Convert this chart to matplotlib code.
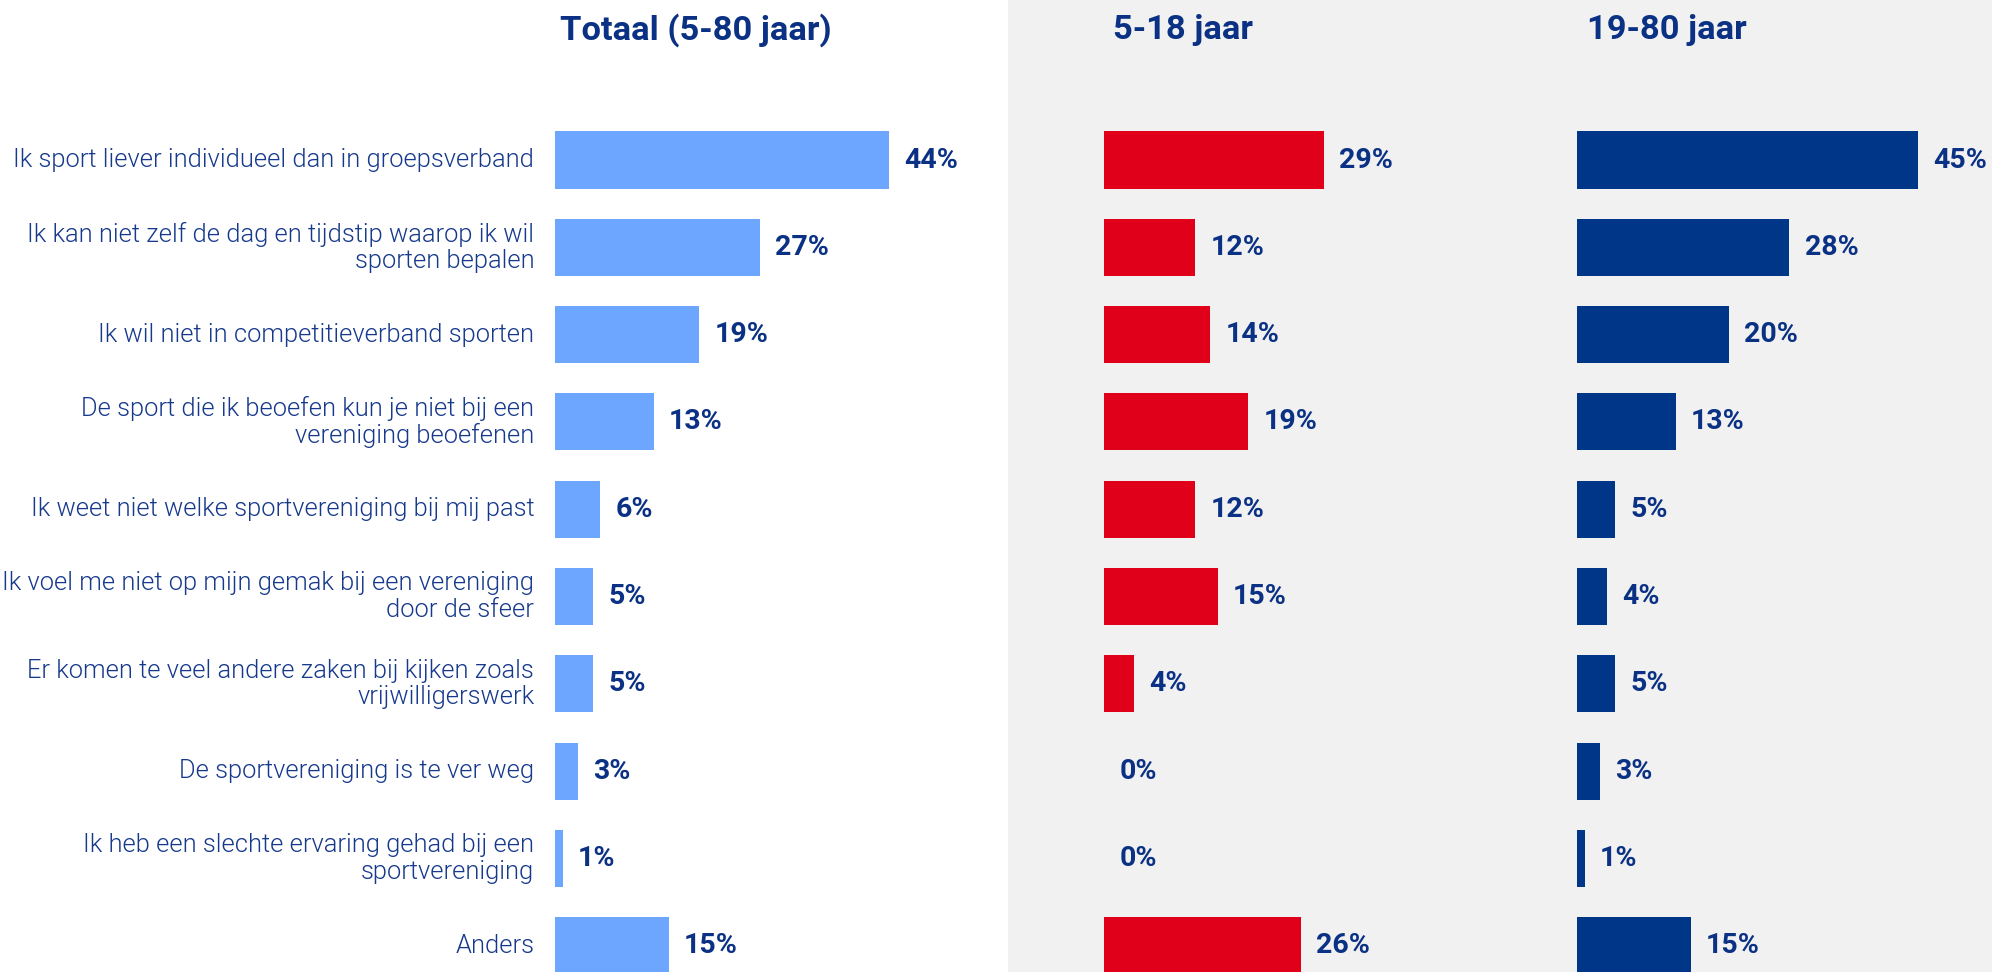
import os
import matplotlib
matplotlib.use("Agg")
import matplotlib.pyplot as plt
from matplotlib.patches import Rectangle
from matplotlib import font_manager as fm
from matplotlib.font_manager import FontProperties

categories = [
    "Ik sport liever individueel dan in groepsverband",
    "Ik kan niet zelf de dag en tijdstip waarop ik wil\nsporten bepalen",
    "Ik wil niet in competitieverband sporten",
    "De sport die ik beoefen kun je niet bij een\nvereniging beoefenen",
    "Ik weet niet welke sportvereniging bij mij past",
    "Ik voel me niet op mijn gemak bij een vereniging\ndoor de sfeer",
    "Er komen te veel andere zaken bij kijken zoals\nvrijwilligerswerk",
    "De sportvereniging is te ver weg",
    "Ik heb een slechte ervaring gehad bij een\nsportvereniging",
    "Anders",
]
totaal = [44, 27, 19, 13, 6, 5, 5, 3, 1, 15]
jeugd = [29, 12, 14, 19, 12, 15, 4, 0, 0, 26]
volwassen = [45, 28, 20, 13, 5, 4, 5, 3, 1, 15]
titles = ["Totaal (5-80 jaar)", "5-18 jaar", "19-80 jaar"]

files = [f.fname for f in fm.fontManager.ttflist]


def find(names):
    for n in names:
        for f in files:
            if os.path.basename(f).lower() == n.lower():
                return f
    return None


reg_file = find(["Roboto-Light.ttf", "Roboto-Regular.ttf", "RobotoCondensed-Light.ttf"])
bold_file = find(["Roboto-Bold.ttf", "RobotoCondensed-Bold.ttf"])


def fp(bold, size):
    f = bold_file if bold else reg_file
    if f:
        return FontProperties(fname=f, size=size)
    return FontProperties(family="Roboto", weight="bold" if bold else "light", size=size)


NAVY = "#0a3183"
LABEL = "#16398c"
colors = ["#6ca6ff", "#e1001a", "#003687"]

W, H = 1992, 972
fig = plt.figure(figsize=(W / 100, H / 100), dpi=100)
fig.patch.set_facecolor("white")
fig.add_artist(Rectangle((1008 / W, 0), 1 - 1008 / W, 1, transform=fig.transFigure,
                         facecolor="#f1f1f1", edgecolor="none", zorder=0))

pxpct = 7.58
y0, pitch = 160, 87.3
ylo = -y0 / pitch
yhi = (H - y0) / pitch
lefts = [555, 1104, 1577]
xmaxs = [60, 60, 54]
series = [totaal, jeugd, volwassen]

for k in range(3):
    width_px = xmaxs[k] * pxpct
    ax = fig.add_axes([lefts[k] / W, 0, width_px / W, 1])
    ax.set_facecolor("none")
    ax.set_xlim(0, xmaxs[k])
    ax.set_ylim(yhi, ylo)
    ax.axis("off")
    ypos = list(range(len(categories)))
    ax.barh(ypos, series[k], height=0.655, color=colors[k], zorder=2)
    for i, v in enumerate(series[k]):
        ax.annotate(f"{v}%", (v, i), xytext=(11, 0), textcoords="offset points",
                    ha="left", va="center", fontproperties=fp(True, 20.5),
                    color=NAVY, annotation_clip=False)
    if k == 0:
        for i, c in enumerate(categories):
            ax.annotate(c, (0, i), xytext=(-15, 0), textcoords="offset points",
                        ha="right", va="center", fontproperties=fp(False, 18.4),
                        color=LABEL, linespacing=1.13, annotation_clip=False)

ty = 1 - 30 / H
fig.text(696 / W, ty, titles[0], ha="center", va="center",
         fontproperties=fp(True, 24.8), color=NAVY)
fig.text(1113 / W, ty, titles[1], ha="left", va="center",
         fontproperties=fp(True, 24.8), color=NAVY)
fig.text(1587 / W, ty, titles[2], ha="left", va="center",
         fontproperties=fp(True, 24.8), color=NAVY)

fig.savefig("out.png", dpi=100)
